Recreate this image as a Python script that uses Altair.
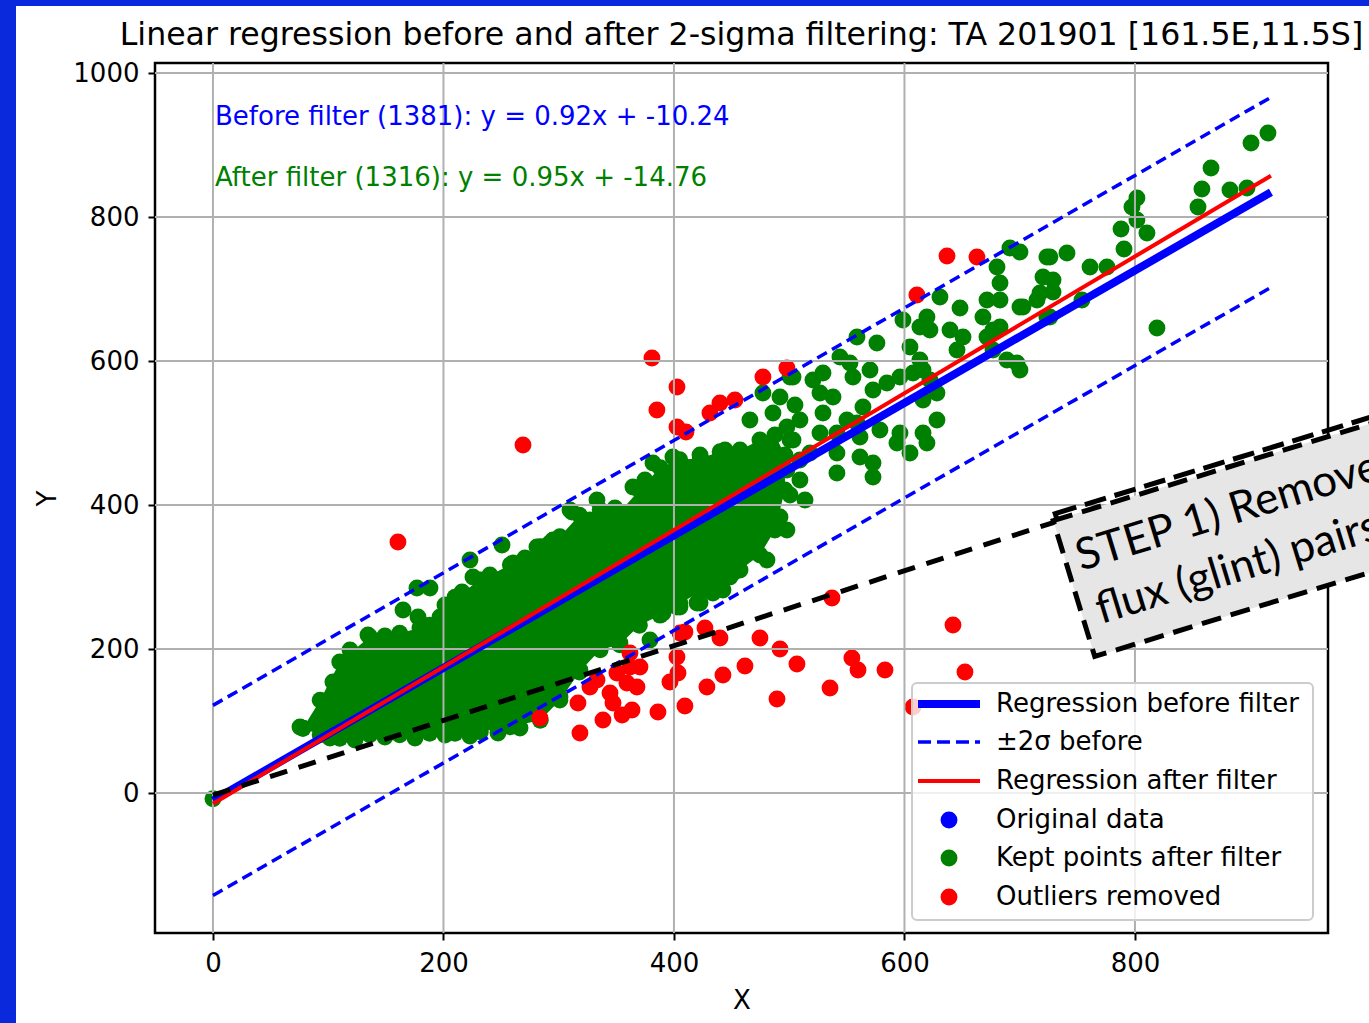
import altair as alt
import pandas as pd

# ---------------- data ----------------
X_DOMAIN = [-50.3, 967.5]
Y_DOMAIN = [-194.4, 1013.9]
X_TICKS = [0, 200, 400, 600, 800]
Y_TICKS = [0, 200, 400, 600, 800, 1000]

TITLE = "Linear regression before and after 2-sigma filtering: TA 201901 [161.5E,11.5S]"

# envelope of the dense cloud of kept points
core_x = [78, 93, 110, 136, 162, 188, 210, 232, 258, 284, 301, 318, 336, 353, 370, 388, 405, 423, 440, 457.3, 474.6, 487.6, 496.3]
core_upper = [90, 129, 182, 217, 222, 233, 272, 296, 317, 342, 356, 386, 393, 390, 421, 452, 463, 465, 474, 476.4, 490.3, 497.2, 469.4]
core_lower = [90, 81, 76, 81, 81, 83, 83, 85, 92, 101, 129, 168, 199, 206, 233, 247, 264, 279, 289, 309.7, 330.6, 365.3, 420.8]

# individual kept points outside / on the edge of the dense core
kept_x = [0, 75.5, 104.1, 134.5, 164.9, 177.9, 177.0, 188.3, 197.0, 223.0, 225.6, 250.8, 260.3, 286.3, 298.5,
          311.5, 281.1, 295.0, 309.8, 333.2, 364.4, 381.8, 399.1, 465.9, 477.2, 492.0, 500.7, 485.9, 500.7,
          480.7, 498.0, 448.6, 416.5, 433.8, 420.0, 370.5, 390.5, 405.2, 446.0, 433.8, 480.7, 492.0, 451.2,
          442.5, 422.6, 402.6, 379.2, 353.1, 318.4, 301.1,
          691.5, 700.2, 680.3, 682.9, 671.6, 668.1, 676.8, 671.6, 648.2, 630.8, 619.5, 622.1, 613.4, 639.5,
          650.8, 645.6, 604.8, 598.7, 576.1, 558.8, 700.2, 723.6, 741.0, 720.2, 728.9, 717.6, 715.0, 726.2,
          697.6, 688.9, 700.2, 676.8, 613.4, 616.1, 607.4, 596.1, 622.1, 628.2, 616.1, 628.2, 616.1, 619.5,
          596.1, 593.5, 604.8, 578.7, 572.7, 561.4, 572.7, 541.4, 541.4, 550.1, 564.0, 572.7, 584.8, 570.1,
          552.7, 544.0, 529.3, 520.6, 503.3, 526.7, 538.0, 555.3, 529.3, 509.3, 498.0, 503.3, 526.7, 518.0,
          498.0, 509.3, 541.4, 561.4, 558.8,
          915.4, 900.7, 866.0, 858.1, 854.7, 882.4, 897.2, 801.7, 797.4, 801.7, 810.4, 787.9, 790.5, 761.0,
          775.7, 726.2, 728.9, 702.8, 723.6, 754.0, 682.9, 682.9, 819.1,
          505.0, 509.3, 500.7, 513.7, 483.3,
          118.9, 149.2, 179.6, 201.3, 216.1, 240.3, 270.7, 292.4, 327.1, 348.8, 374.8, 422.6, 444.3,
          101.5, 123.2, 149.2, 175.3, 201.3, 223.0, 247.3, 266.4]
kept_y = [-8, 91.7, 154.2, 219.4, 254.2, 244.4, 284.7, 284.7, 244.4, 323.6, 300.0, 344.4, 319.4, 341.7, 351.4,
          390.3, 341.7, 351.4, 393.1, 406.9, 425.0, 458.3, 466.7, 518.1, 555.6, 550.0, 577.8, 527.8, 490.3,
          323.6, 365.3, 300.0, 295.8, 277.8, 263.9, 258.3, 250.0, 258.3, 337.5, 341.7, 393.1, 383.3, 305.6,
          281.9, 263.9, 258.3, 212.5, 208.3, 170.8, 133.3,
          756.9, 751.4, 730.6, 708.3, 684.7, 661.1, 643.1, 633.3, 673.6, 688.9, 661.1, 643.1, 647.2, 643.1,
          633.3, 615.3, 619.4, 656.9, 625.0, 633.3, 675.0, 744.4, 750.0, 716.7, 712.5, 694.4, 684.7, 661.1,
          597.2, 601.4, 587.5, 615.3, 601.4, 587.5, 583.3, 577.8, 573.6, 555.6, 545.8, 518.1, 500.0, 486.1,
          500.0, 486.1, 472.2, 504.2, 458.3, 466.7, 438.9, 472.2, 444.4, 518.1, 536.1, 559.7, 569.4, 587.5,
          597.2, 605.6, 583.3, 573.6, 577.8, 555.6, 550.0, 577.8, 527.8, 518.1, 508.3, 490.3, 500.0, 472.2,
          448.6, 434.7, 500.0, 494.4, 513.9,
          916.7, 902.8, 868.1, 838.9, 813.9, 837.5, 840.3, 826.4, 813.9, 795.8, 777.8, 783.3, 755.6, 730.6,
          730.6, 744.4, 695.8, 675.0, 661.1, 684.7, 684.7, 647.2, 645.8,
          539.0, 462.5, 413.9, 406.9, 379.2,
          198.6, 218.1, 229.2, 261.1, 279.2, 302.8, 326.4, 347.2, 379.2, 395.8, 434.7, 469.4, 476.4,
          76.4, 73.6, 77.8, 76.4, 80.6, 79.2, 83.3, 90.3]

# outliers removed by the 2-sigma filter
out_x = [160.5, 269.0, 380.9, 402.6, 385.2, 402.6, 410.4, 431.2, 439.9, 452.9, 477.2, 498.0, 610.8, 636.9, 662.9,
         537.1, 642.1, 652.5, 607.4, 554.4, 559.7, 583.1, 535.4, 489.4, 506.7, 492.0, 474.6, 461.6, 442.5, 428.6,
         439.9, 426.9, 409.5, 402.6, 403.5, 396.5, 409.5, 386.1, 363.6, 355.0, 338.4, 318.4, 316.7, 283.7, 333.2,
         344.5, 350.5, 361.8, 370.5, 359.2, 367.9, 347.1, 327.1, 361.8, 405.2]
out_y = [348.6, 483.3, 604.2, 563.9, 531.9, 508.3, 501.4, 527.8, 541.7, 545.8, 577.8, 590.3, 691.7, 745.8, 744.4,
         270.8, 233.3, 168.1, 119.4, 187.5, 170.8, 170.8, 145.8, 130.6, 179.2, 200.0, 215.3, 176.4, 163.9, 147.2,
         215.3, 229.2, 223.6, 188.9, 166.7, 154.2, 120.8, 112.5, 115.3, 108.3, 101.4, 83.3, 125.0, 104.2, 156.9,
         138.9, 166.7, 175.0, 175.0, 152.8, 147.2, 125.0, 147.2, 194.4, 222.2]

# regressions
before_slope, before_icpt, before_n = 0.92, -10.24, 1381
after_slope, after_icpt, after_n = 0.95, -14.76, 1316
two_sigma = 132
line_x = [0, 918]

# pointer line toward the annotation box
pointer_x = [0, 730.6]
pointer_y = [-3, 376.4]

legend_labels = ["Regression before filter", "\u00b12\u03c3 before", "Regression after filter",
                 "Original data", "Kept points after filter", "Outliers removed"]

# ---------------- build tables ----------------
core_df = pd.DataFrame({"x": core_x, "y": core_upper, "y2": core_lower})
core_pts = pd.DataFrame({"x": core_x + core_x, "y": core_upper + core_lower})
kept_df = pd.concat([pd.DataFrame({"x": kept_x, "y": kept_y}), core_pts], ignore_index=True)
out_df = pd.DataFrame({"x": out_x, "y": out_y})

before_df = pd.DataFrame({"x": line_x, "y": [before_slope * v + before_icpt for v in line_x]})
after_df = pd.DataFrame({"x": line_x, "y": [after_slope * v + after_icpt for v in line_x]})
band_df = pd.DataFrame({
    "x": line_x + line_x,
    "y": [before_slope * v + before_icpt + two_sigma for v in line_x]
         + [before_slope * v + before_icpt - two_sigma for v in line_x],
    "band": ["upper", "upper", "lower", "lower"],
})
pointer_df = pd.DataFrame({"x": pointer_x, "y": pointer_y})
vgrid_df = pd.DataFrame({"x": X_TICKS})
hgrid_df = pd.DataFrame({"y": Y_TICKS})

FONT = "DejaVu Sans"
BLUE = "#0000ff"
GREEN = "#008000"
RED = "#ff0000"
DOT = 285

xs = alt.Scale(domain=X_DOMAIN, nice=False, zero=False)
ys = alt.Scale(domain=Y_DOMAIN, nice=False, zero=False)
x_axis = alt.Axis(values=X_TICKS, title="X", grid=False, domain=False, ticks=True, tickColor="black",
                  tickWidth=2, tickSize=7, labelFontSize=26, labelFont=FONT, labelColor="black",
                  titleFontSize=26, titleFont=FONT, titleFontWeight="normal", titleColor="black",
                  labelPadding=10, titlePadding=11, format="d")
y_axis = alt.Axis(values=Y_TICKS, title="Y", grid=False, domain=False, ticks=True, tickColor="black",
                  tickWidth=2, tickSize=7, labelFontSize=26, labelFont=FONT, labelColor="black",
                  titleFontSize=26, titleFont=FONT, titleFontWeight="normal", titleColor="black",
                  labelPadding=9, titlePadding=12, format="d")


def X():
    return alt.X("x:Q", scale=xs, axis=x_axis)


def Y():
    return alt.Y("y:Q", scale=ys, axis=y_axis)


one = pd.DataFrame({"k": [0]})

core = alt.Chart(core_df).mark_area(color=GREEN, opacity=1).encode(x=X(), y=Y(), y2="y2:Q")
kept = alt.Chart(kept_df).mark_circle(size=DOT, color=GREEN, opacity=1).encode(x=X(), y=Y())
outl = alt.Chart(out_df).mark_circle(size=DOT, color=RED, opacity=1).encode(x=X(), y=Y())

vgrid = alt.Chart(vgrid_df).mark_rule(color="#b0b0b0", strokeWidth=2).encode(x=X())
hgrid = alt.Chart(hgrid_df).mark_rule(color="#b0b0b0", strokeWidth=2).encode(y=Y())

band = alt.Chart(band_df).mark_line(color=BLUE, strokeWidth=3.5, strokeDash=[11, 6]).encode(
    x=X(), y=Y(), detail="band:N")
before_line = alt.Chart(before_df).mark_line(color=BLUE, strokeWidth=8).encode(x=X(), y=Y())
after_line = alt.Chart(after_df).mark_line(color=RED, strokeWidth=4).encode(x=X(), y=Y())
pointer = alt.Chart(pointer_df).mark_line(color="black", strokeWidth=5, strokeDash=[18, 12]).encode(
    x=X(), y=Y())

# title drawn as text so that it stays inside the page
title = alt.Chart(pd.DataFrame({"t": [TITLE]})).mark_text(
    font=FONT, fontSize=31.6, color="black", align="center", baseline="middle").encode(
    text="t:N", x=alt.value(586.5), y=alt.value(-27))

# equation annotations
eq_before = alt.Chart(pd.DataFrame({"t": [f"Before filter ({before_n}): y = {before_slope:.2f}x + {before_icpt:.2f}"]})).mark_text(
    font=FONT, fontSize=26, color=BLUE, align="left", baseline="middle").encode(
    text="t:N", x=alt.value(60), y=alt.value(54))
eq_after = alt.Chart(pd.DataFrame({"t": [f"After filter ({after_n}): y = {after_slope:.2f}x + {after_icpt:.2f}"]})).mark_text(
    font=FONT, fontSize=26, color=GREEN, align="left", baseline="middle").encode(
    text="t:N", x=alt.value(60), y=alt.value(115))

# rotated callout box
box_shape = "M-1,-0.222L1,-0.222L1,0.222L-1,0.222Z"
box = alt.Chart(one).mark_point(
    shape=box_shape, size=409600, angle=343, filled=True, fill="#e6e6e6", fillOpacity=1,
    stroke="black", strokeWidth=5, strokeDash=[20, 10], opacity=1).encode(
    x=alt.value(1225), y=alt.value(432))
box2 = alt.Chart(one).mark_point(
    shape=box_shape, size=409600, angle=343, filled=False, fillOpacity=0,
    stroke="black", strokeWidth=5, strokeDash=[22, 9], opacity=1).encode(
    x=alt.value(1227), y=alt.value(425))
box_t1 = alt.Chart(pd.DataFrame({"t": ["STEP 1) Remove high"]})).mark_text(
    font="Lato", fontSize=44, color="black", align="left", baseline="alphabetic", angle=343).encode(
    text="t:N", x=alt.value(926), y=alt.value(508))
box_t2 = alt.Chart(pd.DataFrame({"t": ["flux (glint) pairs"]})).mark_text(
    font="Lato", fontSize=44, color="black", align="left", baseline="alphabetic", angle=343).encode(
    text="t:N", x=alt.value(946), y=alt.value(561))

# legend (drawn by hand)
LEG_X0, LEG_X1, LEG_Y0, LEG_Y1 = 757, 1158, 620, 857
rows = [641, 679, 718, 757, 795, 834]
leg_box = alt.Chart(one).mark_rect(
    fill="white", fillOpacity=0.8, stroke="#cccccc", strokeWidth=2, cornerRadius=5).encode(
    x=alt.value(LEG_X0), x2=alt.value(LEG_X1), y=alt.value(LEG_Y0), y2=alt.value(LEG_Y1))
leg_l1 = alt.Chart(one).mark_rule(color=BLUE, strokeWidth=8).encode(
    x=alt.value(763), x2=alt.value(825), y=alt.value(rows[0]))
leg_l2 = alt.Chart(one).mark_rule(color=BLUE, strokeWidth=3.5, strokeDash=[13, 6]).encode(
    x=alt.value(763), x2=alt.value(825), y=alt.value(rows[1]))
leg_l3 = alt.Chart(one).mark_rule(color=RED, strokeWidth=4).encode(
    x=alt.value(763), x2=alt.value(825), y=alt.value(rows[2]))
leg_p = [alt.Chart(one).mark_circle(size=DOT, color=c, opacity=1).encode(
    x=alt.value(794), y=alt.value(r)) for c, r in zip([BLUE, GREEN, RED], rows[3:])]
leg_text = alt.Chart(pd.DataFrame({"t": legend_labels, "r": rows})).mark_text(
    font=FONT, fontSize=26, color="black", align="left", baseline="middle").encode(
    text="t:N", x=alt.value(841), y=alt.Y("r:Q", scale=None))

# blue frame strips of the slide
strip_l = alt.Chart(one).mark_rect(color="#0a28dc").encode(
    x=alt.value(-155), x2=alt.value(-139), y=alt.value(-63), y2=alt.value(960))
strip_t = alt.Chart(one).mark_rect(color="#0a28dc").encode(
    x=alt.value(-155), x2=alt.value(1214), y=alt.value(-63), y2=alt.value(-57))

chart = alt.layer(
    core, kept, outl, vgrid, hgrid, band, before_line, after_line, pointer,
    title, eq_before, eq_after, box2, box, box_t1, box_t2,
    leg_box, leg_l1, leg_l2, leg_l3, *leg_p, leg_text, strip_l, strip_t,
).properties(
    width=1173, height=870,
    autosize=alt.AutoSizeParams(type="none"),
    padding={"left": 155, "top": 63, "right": 41, "bottom": 90},
    background="white",
).configure_view(stroke="black", strokeWidth=2.5)

chart.save("out.html", embed_options={"renderer": "svg", "actions": False})
